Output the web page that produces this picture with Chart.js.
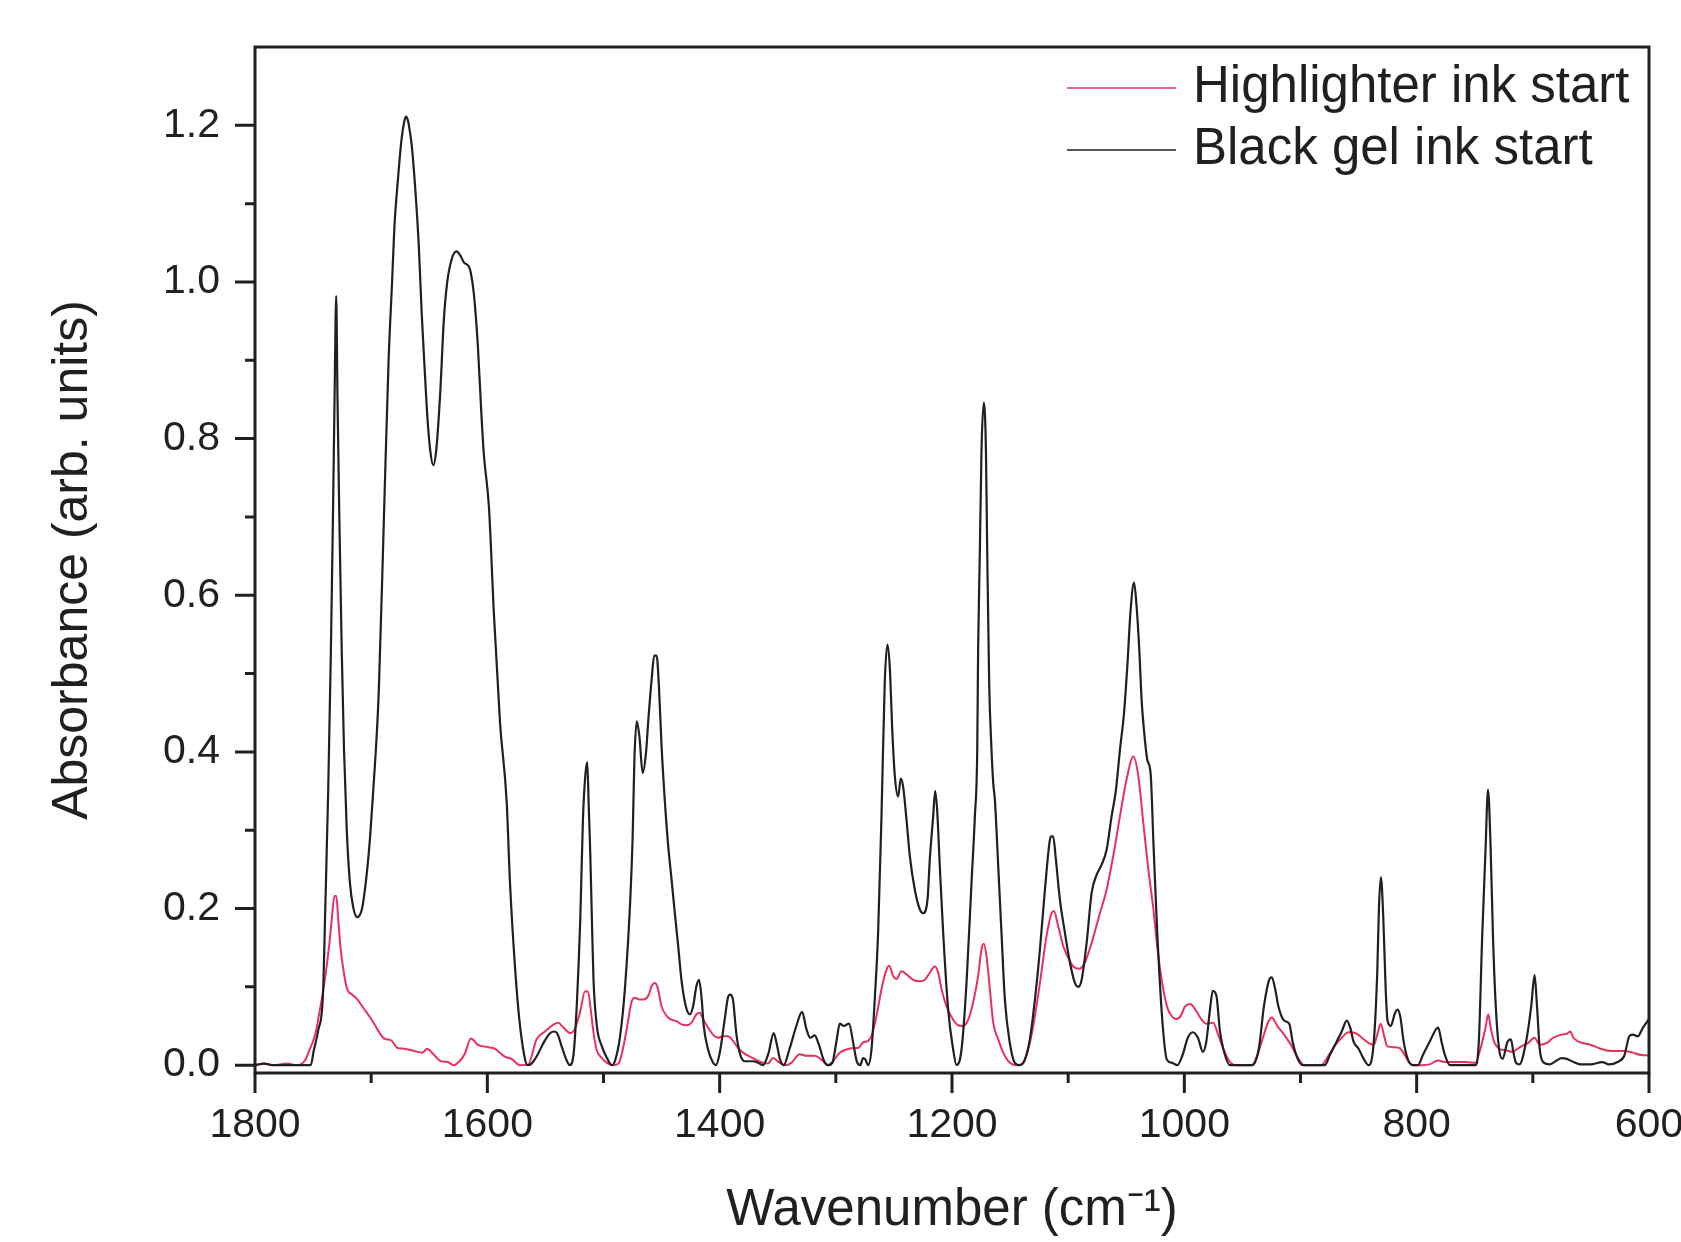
<!DOCTYPE html>
<html lang="en">
<head>
<meta charset="utf-8">
<title>Ink absorbance spectra</title>
<script src="https://cdn.jsdelivr.net/npm/chart.js@4.4.1/dist/chart.umd.min.js"></script>
<style>
  html, body { margin: 0; padding: 0; background: #ffffff; overflow: hidden; }
  .chart-wrap { position: relative; width: 1681px; height: 1242px; }
</style>
</head>
<body>
<div class="chart-wrap"><canvas class="spectra-chart"></canvas></div>
<script>
// Highlighter ink spectrum (wavenumber in cm-1, absorbance)
const highlighterWavenumber = [
  1800, 1792, 1785, 1772, 1764, 1757, 1752.4, 1748, 1744, 1740.8,
  1738, 1736, 1734, 1731.6, 1730, 1728.5, 1726.4, 1723.5, 1720.6, 1716.3,
  1712, 1706.2, 1700.4, 1694.7, 1690.3, 1687, 1683.1, 1677.3, 1671.6, 1662.9,
  1655.7, 1651.9, 1647, 1639.8, 1634.1, 1628.9, 1624, 1619.6, 1614, 1608.1,
  1599.4, 1593.6, 1585, 1579.2, 1572, 1564.8, 1557.6, 1550.4, 1539, 1534.5,
  1528.6, 1525, 1520, 1516, 1513.4, 1511, 1509, 1506, 1502, 1497,
  1491.4, 1487, 1484, 1480, 1476, 1473, 1469, 1465.7, 1461, 1458.6,
  1455.7, 1453.4, 1450, 1445.7, 1441.4, 1437, 1432.9, 1428.6, 1424.3, 1420,
  1417.1, 1414, 1410, 1405.7, 1401.4, 1397, 1392.9, 1388.5, 1384.2, 1379.9,
  1371.3, 1362.7, 1358.4, 1354.1, 1348.3, 1344, 1338.3, 1331.1, 1325.3, 1318.2,
  1312.4, 1306.7, 1302.4, 1296.6, 1290.9, 1285.1, 1280.8, 1276.5, 1272.2, 1269.3,
  1265, 1260.7, 1256.4, 1254.1, 1250.7, 1247.8, 1243.5, 1239.2, 1233.5, 1227.7,
  1223.4, 1219.1, 1214.8, 1211.9, 1209, 1204.7, 1199, 1194.7, 1190.4, 1186.1,
  1181.8, 1177.5, 1174.6, 1172.6, 1170.3, 1167.4, 1164.5, 1160.2, 1155.9, 1150.2,
  1144.4, 1138.7, 1134.4, 1130.1, 1124.3, 1118.6, 1114.3, 1112.3, 1108.5, 1104.2,
  1099.9, 1095.6, 1090.4, 1085.6, 1079.8, 1072.7, 1066.9, 1061.2, 1055.4, 1049.7,
  1043.9, 1039.6, 1035.3, 1031, 1026.7, 1022.8, 1018.5, 1014, 1009.8, 1007,
  1003, 999.4, 995, 990.5, 986, 981.1, 975.2, 970.9, 966.5, 960.7,
  954.8, 941.7, 937.3, 931.5, 927.2, 924.8, 919.9, 914.1, 908.3, 902.4,
  896.6, 882, 876, 870, 864.5, 858.8, 853, 847.1, 841.2, 836.9,
  833.9, 831, 828.1, 825.2, 819.4, 815, 810.6, 806.3, 801.9, 796.1,
  788.8, 781.5, 775.7, 766.9, 758.2, 749.5, 745.1, 740.7, 738.4, 736.3,
  733.4, 729.1, 723.3, 717.5, 713.1, 708.7, 704.3, 698.5, 694.1, 688.3,
  682.5, 675.2, 670.8, 667.9, 665, 660.6, 650.4, 641.6, 632.9, 621.3,
  614, 606.7, 600
];
const highlighterAbsorbance = [
  0, 0.002, 0, 0.002, 0, 0.006, 0.022, 0.04, 0.072, 0.1,
  0.13, 0.155, 0.185, 0.216, 0.216, 0.19, 0.15, 0.118, 0.097, 0.09,
  0.084, 0.072, 0.06, 0.046, 0.036, 0.033, 0.032, 0.022, 0.021, 0.018,
  0.016, 0.021, 0.015, 0.005, 0.004, 0, 0.005, 0.014, 0.034, 0.026,
  0.023, 0.021, 0.011, 0.008, 0, 0.001, 0.033, 0.043, 0.054, 0.048,
  0.041, 0.045, 0.069, 0.094, 0.094, 0.071, 0.046, 0.02, 0.01, 0.003,
  0, 0.002, 0.016, 0.046, 0.08, 0.086, 0.084, 0.084, 0.09, 0.101,
  0.105, 0.099, 0.075, 0.063, 0.058, 0.056, 0.052, 0.051, 0.054, 0.065,
  0.067, 0.058, 0.048, 0.039, 0.035, 0.037, 0.037, 0.031, 0.022, 0.016,
  0.009, 0.003, 0.002, 0.009, 0.003, 0, 0.003, 0.014, 0.012, 0.012,
  0.007, 0, 0.005, 0.016, 0.02, 0.022, 0.022, 0.029, 0.031, 0.037,
  0.063, 0.097, 0.122, 0.127, 0.114, 0.11, 0.12, 0.116, 0.109, 0.107,
  0.109, 0.118, 0.126, 0.118, 0.097, 0.075, 0.058, 0.051, 0.05, 0.058,
  0.08, 0.114, 0.148, 0.155, 0.139, 0.097, 0.054, 0.033, 0.016, 0.003,
  0, 0.003, 0.02, 0.05, 0.105, 0.165, 0.194, 0.197, 0.177, 0.152,
  0.137, 0.126, 0.123, 0.131, 0.156, 0.194, 0.224, 0.267, 0.318, 0.365,
  0.394, 0.369, 0.309, 0.25, 0.2, 0.145, 0.1, 0.071, 0.061, 0.059,
  0.063, 0.075, 0.078, 0.071, 0.06, 0.053, 0.054, 0.039, 0.021, 0.004,
  0, 0, 0.012, 0.039, 0.057, 0.061, 0.05, 0.039, 0.026, 0.01,
  0, 0, 0.012, 0.026, 0.035, 0.042, 0.041, 0.035, 0.028, 0.026,
  0.039, 0.053, 0.038, 0.024, 0.023, 0.022, 0.014, 0.003, 0, 0,
  0.001, 0.006, 0.004, 0.004, 0.004, 0.003, 0.021, 0.048, 0.065, 0.048,
  0.03, 0.021, 0.019, 0.017, 0.021, 0.025, 0.028, 0.035, 0.026, 0.028,
  0.035, 0.039, 0.04, 0.043, 0.035, 0.03, 0.026, 0.021, 0.018, 0.018,
  0.016, 0.013, 0.0125
];

// Black gel ink spectrum
const blackGelWavenumber = [
  1800, 1792, 1785, 1760, 1752, 1749.5, 1745.5, 1741.5, 1739.5, 1737,
  1734.7, 1733, 1731.5, 1730.1, 1729, 1727.3, 1725.3, 1723.4, 1721, 1718.3,
  1715.5, 1712, 1708, 1704.5, 1701, 1698, 1693.5, 1689, 1685, 1682,
  1680, 1677, 1674, 1671.5, 1670, 1668.5, 1667.5, 1665, 1662, 1659,
  1656.5, 1654, 1651.5, 1649, 1646.6, 1644, 1640.5, 1637.5, 1634.6, 1630.5,
  1626.5, 1623, 1620.2, 1616, 1614.4, 1611.6, 1608.1, 1605, 1603, 1598.6,
  1594.3, 1589.1, 1583.3, 1580.5, 1576.4, 1572.7, 1568.4, 1565.5, 1562, 1557.6,
  1551.8, 1546.5, 1543, 1540, 1536, 1532, 1529, 1525.7, 1522.9, 1520,
  1517.7, 1515.7, 1514, 1512.7, 1511.4, 1510, 1508.6, 1505.7, 1501.4, 1497,
  1492.9, 1490, 1485.7, 1481.4, 1477.1, 1474.9, 1473.4, 1471.4, 1469.1, 1466.3,
  1463.4, 1461.4, 1458.6, 1456.3, 1454.3, 1452.3, 1450, 1447.1, 1444.3, 1441.4,
  1438.6, 1435.7, 1432.9, 1429.1, 1425.7, 1422.9, 1420, 1417.7, 1415.7, 1413.7,
  1410, 1405.7, 1403.4, 1400, 1395.7, 1392.9, 1390.9, 1388.6, 1385.7, 1382.8,
  1378.5, 1371.3, 1367, 1362.7, 1358, 1353.5, 1351, 1348, 1344.9, 1340,
  1334, 1329.1, 1325.3, 1322, 1318.2, 1315, 1310, 1306.7, 1303, 1299.5,
  1296.6, 1293, 1290.5, 1288.6, 1285, 1282, 1279, 1276.5, 1274.5, 1272.2,
  1269.3, 1266.5, 1263.6, 1260.7, 1257.9, 1255.6, 1253.6, 1251.3, 1249.2, 1246.4,
  1244.1, 1242.1, 1239.2, 1236.3, 1232, 1227.7, 1224.8, 1221.1, 1219.1, 1216.2,
  1214.5, 1212.8, 1210.5, 1207.6, 1203.3, 1199, 1196.1, 1191.8, 1187.5, 1183.2,
  1180.3, 1178.3, 1177.5, 1176, 1174.6, 1172.6, 1170.8, 1169.7, 1168, 1166,
  1164.5, 1163.1, 1160.2, 1157.4, 1154.5, 1150.2, 1145.9, 1141.6, 1137.3, 1133,
  1128.6, 1124.3, 1120, 1115.7, 1114.3, 1112.9, 1110.6, 1107.1, 1102.8, 1098.5,
  1094.2, 1091.3, 1088.4, 1084.1, 1079.8, 1075.5, 1071.2, 1066.9, 1062.6, 1059,
  1055.4, 1051.9, 1049.1, 1046.2, 1043.3, 1041.1, 1038.8, 1036.8, 1034.5, 1031.9,
  1029, 1026.5, 1023.5, 1019, 1015, 1010.5, 1006, 1001.5, 997, 992.7,
  988.3, 984, 981.1, 978, 975.5, 972.3, 969.4, 966.5, 960.7, 941.7,
  935.9, 931.5, 927.2, 924.8, 921.9, 919, 914.1, 909.7, 906.8, 902.4,
  898, 879, 874.7, 868.9, 864.5, 860.2, 857.2, 854.3, 850, 845.6,
  841.2, 836.9, 833.9, 832.5, 830.8, 828.7, 826.7, 825.2, 822.3, 818.8,
  816.5, 814.1, 811.2, 807.7, 803.3, 798.9, 794.6, 788.8, 781.5, 778.6,
  775.7, 771.3, 749.5, 746.5, 743.6, 740.7, 738.6, 736.3, 734.3, 731.9,
  729.1, 726.1, 721.8, 718.9, 716.8, 714.5, 711.6, 705.8, 701.4, 698.5,
  696.4, 694.1, 691.2, 685.4, 679.5, 675.2, 670.8, 665, 659.1, 650.4,
  640.2, 634.4, 627.1, 621.3, 616.9, 614, 609.6, 605.2, 600
];
const blackGelAbsorbance = [
  0, 0.002, 0, 0, 0, 0.018, 0.045, 0.09, 0.2, 0.35,
  0.527, 0.69, 0.852, 0.982, 0.852, 0.69, 0.527, 0.404, 0.3, 0.233,
  0.202, 0.189, 0.199, 0.235, 0.29, 0.355, 0.475, 0.7, 0.9, 1.0,
  1.07, 1.13, 1.18, 1.205, 1.211, 1.207, 1.2, 1.173, 1.118, 1.046,
  0.96, 0.89, 0.825, 0.783, 0.766, 0.785, 0.86, 0.95, 0.999, 1.03,
  1.039, 1.033, 1.025, 1.02, 1.013, 0.985, 0.917, 0.828, 0.78, 0.712,
  0.575, 0.438, 0.335, 0.233, 0.13, 0.062, 0.014, 0, 0.002, 0.011,
  0.028, 0.04, 0.043, 0.041, 0.024, 0.007, 0, 0.015, 0.08, 0.186,
  0.314, 0.369, 0.387, 0.33, 0.271, 0.186, 0.109, 0.05, 0.024, 0.009,
  0, 0.006, 0.037, 0.101, 0.207, 0.292, 0.39, 0.439, 0.42, 0.373,
  0.399, 0.441, 0.492, 0.523, 0.523, 0.484, 0.407, 0.335, 0.28, 0.237,
  0.194, 0.152, 0.109, 0.075, 0.065, 0.075, 0.101, 0.109, 0.088, 0.05,
  0.02, 0.003, 0, 0.015, 0.058, 0.086, 0.09, 0.084, 0.041, 0.016,
  0.005, 0.005, 0.003, 0, 0.015, 0.041, 0.028, 0.007, 0, 0.02,
  0.05, 0.068, 0.046, 0.035, 0.038, 0.028, 0.005, 0, 0.003, 0.03,
  0.053, 0.05, 0.052, 0.053, 0.028, 0.005, 0, 0.009, 0.007, 0,
  0.02, 0.084, 0.169, 0.318, 0.488, 0.537, 0.509, 0.424, 0.369, 0.343,
  0.366, 0.356, 0.314, 0.267, 0.224, 0.199, 0.194, 0.211, 0.263, 0.318,
  0.35, 0.326, 0.254, 0.169, 0.071, 0.02, 0, 0.02, 0.105, 0.233,
  0.318, 0.4, 0.531, 0.658, 0.786, 0.846, 0.786, 0.658, 0.488, 0.403,
  0.36, 0.339, 0.254, 0.169, 0.084, 0.028, 0.003, 0, 0.007, 0.033,
  0.084, 0.148, 0.224, 0.288, 0.292, 0.292, 0.263, 0.211, 0.169, 0.131,
  0.105, 0.1, 0.109, 0.156, 0.22, 0.243, 0.256, 0.275, 0.318, 0.35,
  0.403, 0.45, 0.509, 0.582, 0.616, 0.586, 0.531, 0.467, 0.424, 0.39,
  0.372, 0.28, 0.175, 0.058, 0.007, 0.003, 0, 0.013, 0.035, 0.042,
  0.035, 0.017, 0.03, 0.07, 0.095, 0.088, 0.044, 0.021, 0, 0,
  0.021, 0.075, 0.108, 0.112, 0.098, 0.075, 0.057, 0.053, 0.03, 0.008,
  0, 0, 0.013, 0.03, 0.043, 0.057, 0.048, 0.03, 0.021, 0.008,
  0, 0.03, 0.12, 0.2, 0.24, 0.187, 0.098, 0.058, 0.05, 0.066,
  0.071, 0.062, 0.03, 0.008, 0, 0, 0.013, 0.03, 0.048, 0.03,
  0.013, 0, 0, 0.03, 0.164, 0.276, 0.352, 0.276, 0.164, 0.075,
  0.021, 0.008, 0.03, 0.033, 0.017, 0.003, 0.001, 0.03, 0.075, 0.115,
  0.075, 0.021, 0.004, 0.001, 0.006, 0.009, 0.008, 0.004, 0.001, 0.001,
  0.004, 0.001, 0.004, 0.012, 0.037, 0.039, 0.037, 0.048, 0.059
];

const seriesLabels = ["Highlighter ink start", "Black gel ink start"];
const xMajorTicks = [1800, 1600, 1400, 1200, 1000, 800, 600];
const xMinorTicks = [1700, 1500, 1300, 1100, 900, 700];
const yMajorTicks = [0, 0.2, 0.4, 0.6, 0.8, 1.0, 1.2];
const yMinorTicks = [0.1, 0.3, 0.5, 0.7, 0.9, 1.1];

const inkColor = "#231f20";
const highlighterColor = "#e8315f";
const fontFamily = "'Liberation Sans', Arial, Helvetica, sans-serif";

function toPoints(xs, ys) {
  return xs.map((x, i) => ({ x: x, y: ys[i] }));
}

// closed frame plus outward major/minor ticks
const frameAndTicks = {
  id: "frameAndTicks",
  afterDatasetsDraw(chart) {
    const { ctx, chartArea, scales } = chart;
    const { left, right, top, bottom } = chartArea;
    ctx.save();
    ctx.strokeStyle = inkColor;
    ctx.lineWidth = 3;
    ctx.strokeRect(left, top, right - left, bottom - top);
    ctx.beginPath();
    yMajorTicks.forEach((v) => {
      const py = scales.y.getPixelForValue(v);
      ctx.moveTo(left - 20, py);
      ctx.lineTo(left, py);
    });
    yMinorTicks.forEach((v) => {
      const py = scales.y.getPixelForValue(v);
      ctx.moveTo(left - 10, py);
      ctx.lineTo(left, py);
    });
    xMajorTicks.forEach((v) => {
      const px = scales.x.getPixelForValue(v);
      ctx.moveTo(px, bottom);
      ctx.lineTo(px, bottom + 20);
    });
    xMinorTicks.forEach((v) => {
      const px = scales.x.getPixelForValue(v);
      ctx.moveTo(px, bottom);
      ctx.lineTo(px, bottom + 10);
    });
    ctx.stroke();
    ctx.restore();
  },
};

// legend sitting inside the top right of the plot
const insideLegend = {
  id: "insideLegend",
  afterDraw(chart) {
    const { ctx, chartArea } = chart;
    const lineStart = chartArea.right - 582;
    const lineEnd = lineStart + 109;
    ctx.save();
    ctx.font = `51px ${fontFamily}`;
    ctx.textAlign = "left";
    ctx.textBaseline = "middle";
    chart.data.datasets.forEach((ds, i) => {
      const rowY = chartArea.top + 41 + i * 62;
      ctx.strokeStyle = ds.borderColor;
      ctx.lineWidth = 1.6;
      ctx.beginPath();
      ctx.moveTo(lineStart, rowY);
      ctx.lineTo(lineEnd, rowY);
      ctx.stroke();
      ctx.fillStyle = inkColor;
      ctx.fillText(ds.label, lineEnd + 17, rowY);
    });
    ctx.restore();
  },
};

const ctx = document.querySelector(".spectra-chart").getContext("2d");
const config = {
  type: "line",
  data: {
    datasets: [
      {
        label: seriesLabels[0],
        data: toPoints(highlighterWavenumber, highlighterAbsorbance),
        borderColor: highlighterColor,
        borderWidth: 2,
        pointRadius: 0,
        cubicInterpolationMode: "monotone",
        fill: false,
        order: 1,
      },
      {
        label: seriesLabels[1],
        data: toPoints(blackGelWavenumber, blackGelAbsorbance),
        borderColor: inkColor,
        borderWidth: 2.2,
        pointRadius: 0,
        cubicInterpolationMode: "monotone",
        fill: false,
        order: 0,
      },
    ],
  },
  options: {
    responsive: true,
    maintainAspectRatio: false,
    animation: false,
    devicePixelRatio: 1,
    layout: { padding: { top: 47, right: 32, bottom: 0, left: 0 } },
    plugins: {
      legend: { display: false },
      tooltip: { enabled: false },
    },
    scales: {
      x: {
        type: "linear",
        reverse: true,
        min: 600,
        max: 1800,
        afterBuildTicks: (scale) => {
          scale.ticks = xMajorTicks.map((value) => ({ value }));
        },
        afterFit: (scale) => {
          scale.height = 169;
          // let the last label run past the frame instead of shrinking the plot
          scale.paddingLeft = 0;
          scale.paddingRight = 0;
        },
        border: { display: false },
        grid: {
          display: true,
          drawOnChartArea: false,
          drawTicks: true,
          tickLength: 20,
          color: "rgba(0,0,0,0)",
        },
        ticks: {
          padding: 8,
          color: inkColor,
          maxRotation: 0,
          autoSkip: false,
          font: { family: fontFamily, size: 41 },
          callback: (value) => String(value),
        },
        title: {
          display: true,
          text: "Wavenumber (cm\u207B\u00B9)",
          color: inkColor,
          font: { family: fontFamily, size: 51 },
          padding: { top: 0, bottom: 0 },
        },
      },
      y: {
        type: "linear",
        min: -0.01,
        max: 1.3,
        afterBuildTicks: (scale) => {
          scale.ticks = yMajorTicks.map((value) => ({ value }));
        },
        afterFit: (scale) => {
          scale.width = 255;
        },
        border: { display: false },
        grid: {
          display: true,
          drawOnChartArea: false,
          drawTicks: true,
          tickLength: 20,
          color: "rgba(0,0,0,0)",
        },
        ticks: {
          padding: 15,
          color: inkColor,
          font: { family: fontFamily, size: 41 },
          callback: (value) => value.toFixed(1),
        },
        title: {
          display: true,
          text: "Absorbance (arb. units)",
          color: inkColor,
          font: { family: fontFamily, size: 50 },
          padding: { top: 43, bottom: 0 },
        },
      },
    },
  },
  plugins: [frameAndTicks, insideLegend],
};
const spectraChart = new Chart(ctx, config);
</script>
</body>
</html>
